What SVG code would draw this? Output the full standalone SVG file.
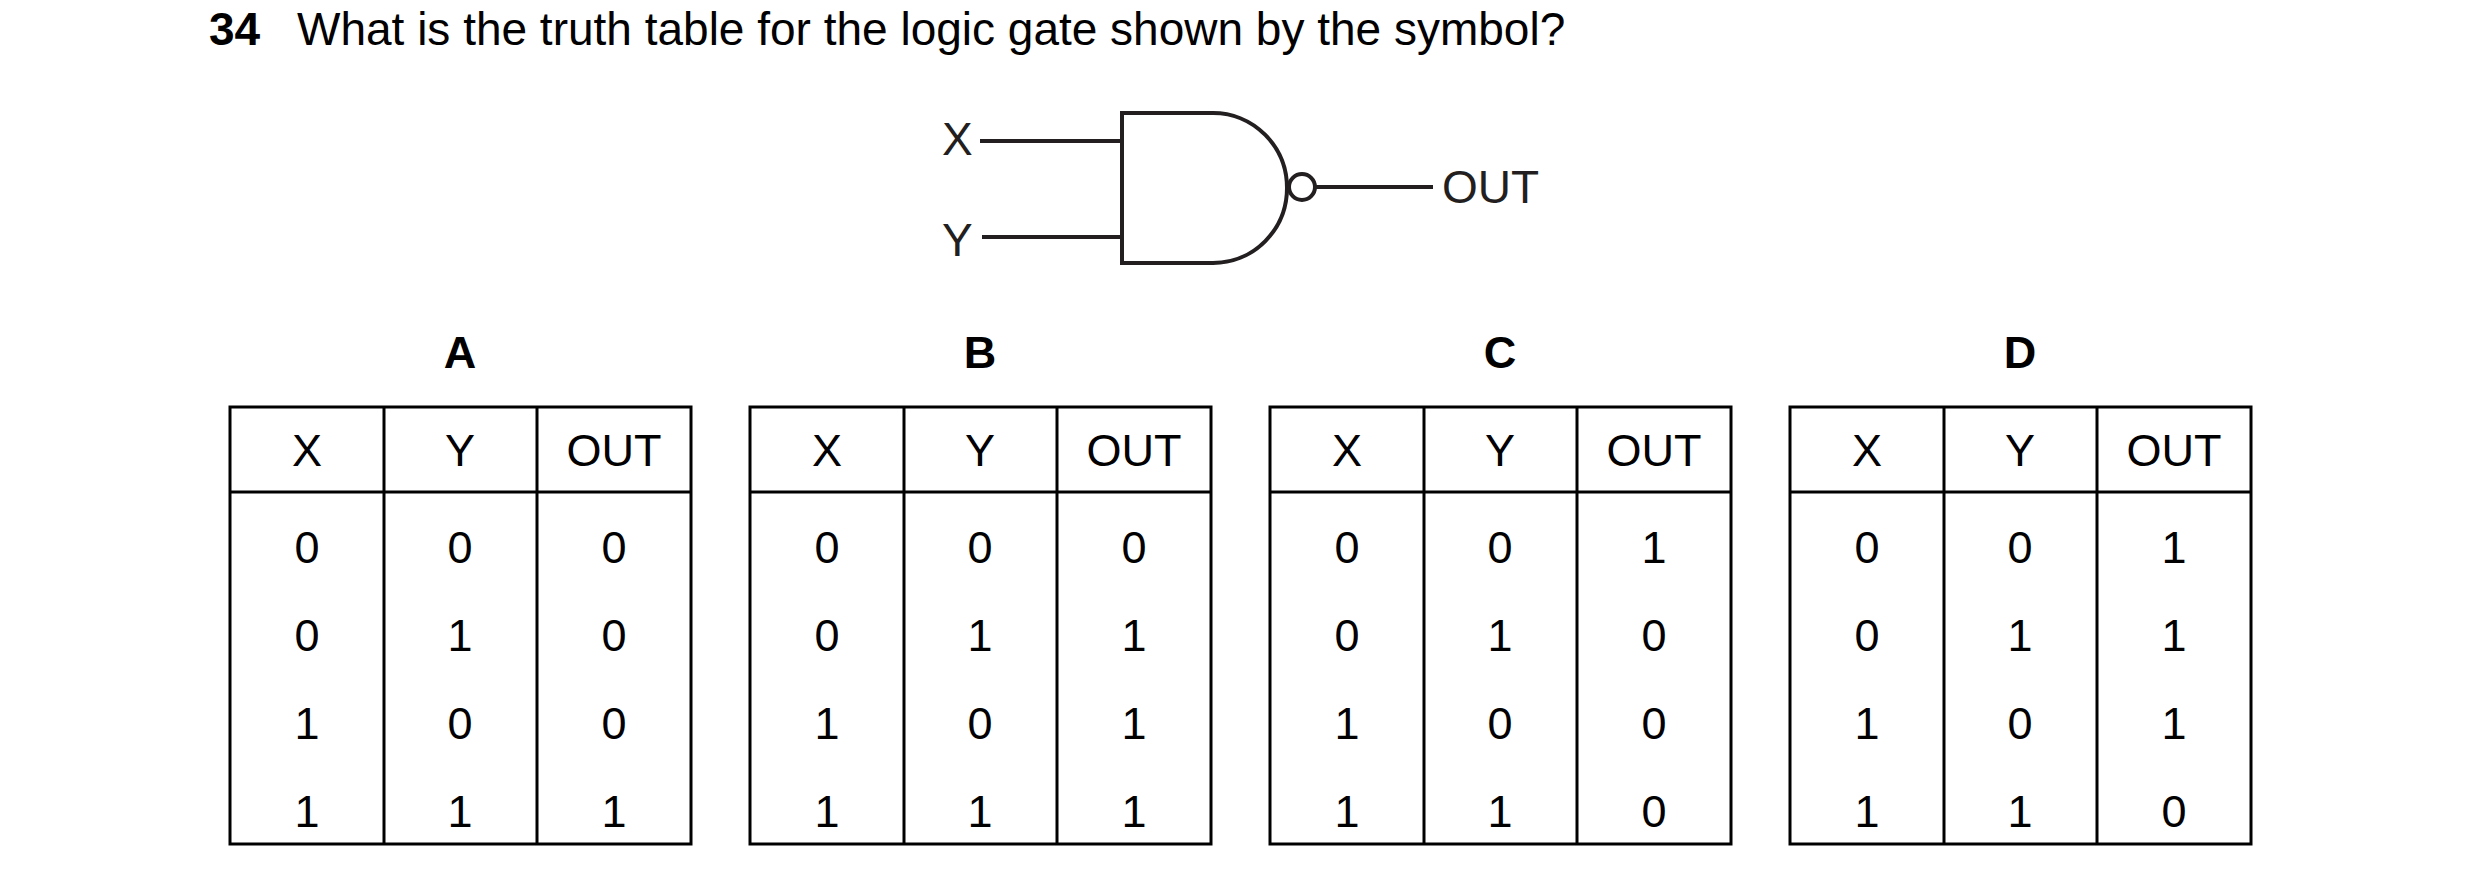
<svg xmlns="http://www.w3.org/2000/svg" width="2480" height="885" viewBox="0 0 2480 885">
<style>
text{font-family:"Liberation Sans",Arial,sans-serif;fill:#000}
.q{font-size:46px}
.b{font-weight:bold}
.t{font-size:45px;text-anchor:middle}
.g{font-size:46px;fill:#231f20}
.ln{stroke:#231f20;stroke-width:4;fill:none}
.tb{stroke:#000;stroke-width:3;fill:none}
</style>
<rect width="2480" height="885" fill="#fff"/>
<text class="q b" x="209" y="45">34</text>
<text class="q" x="297" y="45">What is the truth table for the logic gate shown by the symbol?</text>
<g id="gate">
<path class="ln" d="M1122,113 H1213 A74,75 0 0 1 1213,263 H1122 Z"/>
<circle class="ln" cx="1302" cy="187" r="13"/>
</g>
<g id="connectors">
<line class="ln" x1="980" y1="141" x2="1122" y2="141"/>
<line class="ln" x1="982" y1="237" x2="1122" y2="237"/>
<line class="ln" x1="1315" y1="187" x2="1433" y2="187"/>
</g>
<g id="labels">
<text class="g" x="942" y="155">X</text>
<text class="g" x="942" y="256">Y</text>
<text class="g" x="1442" y="203">OUT</text>
</g>
<defs>
<g id="grid">
<rect class="tb" x="0" y="0" width="461" height="437"/>
<line class="tb" x1="0" y1="85" x2="461" y2="85"/>
<line class="tb" x1="154" y1="0" x2="154" y2="437"/>
<line class="tb" x1="307" y1="0" x2="307" y2="437"/>
<text class="t" x="77" y="59">X</text>
<text class="t" x="230" y="59">Y</text>
<text class="t" x="384" y="59">OUT</text>
<text class="t" x="77" y="156">0</text><text class="t" x="230" y="156">0</text>
<text class="t" x="77" y="244">0</text><text class="t" x="230" y="244">1</text>
<text class="t" x="77" y="332">1</text><text class="t" x="230" y="332">0</text>
<text class="t" x="77" y="420">1</text><text class="t" x="230" y="420">1</text>
</g>
</defs>
<g id="tableA" transform="translate(230,407)">
<text class="t b" x="230" y="-39">A</text>
<use href="#grid"/>
<text class="t" x="384" y="156">0</text><text class="t" x="384" y="244">0</text><text class="t" x="384" y="332">0</text><text class="t" x="384" y="420">1</text>
</g>
<g id="tableB" transform="translate(750,407)">
<text class="t b" x="230" y="-39">B</text>
<use href="#grid"/>
<text class="t" x="384" y="156">0</text><text class="t" x="384" y="244">1</text><text class="t" x="384" y="332">1</text><text class="t" x="384" y="420">1</text>
</g>
<g id="tableC" transform="translate(1270,407)">
<text class="t b" x="230" y="-39">C</text>
<use href="#grid"/>
<text class="t" x="384" y="156">1</text><text class="t" x="384" y="244">0</text><text class="t" x="384" y="332">0</text><text class="t" x="384" y="420">0</text>
</g>
<g id="tableD" transform="translate(1790,407)">
<text class="t b" x="230" y="-39">D</text>
<use href="#grid"/>
<text class="t" x="384" y="156">1</text><text class="t" x="384" y="244">1</text><text class="t" x="384" y="332">1</text><text class="t" x="384" y="420">0</text>
</g>
</svg>
